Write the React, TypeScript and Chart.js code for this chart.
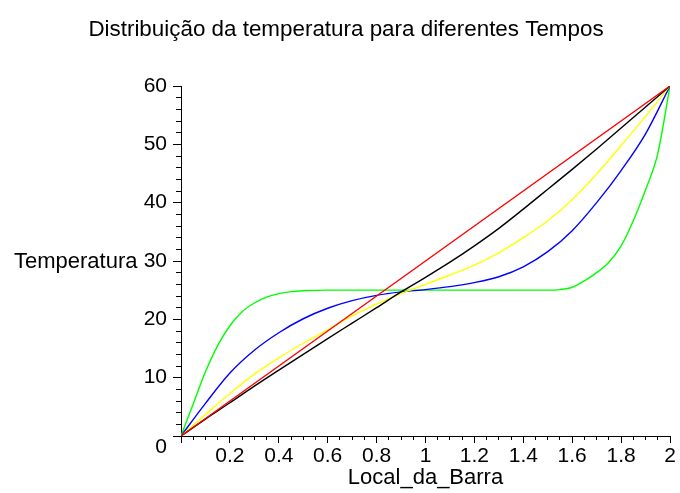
import { useEffect, useRef } from 'react';
import { Chart, registerables } from 'chart.js';

Chart.register(...registerables);

const TITLE = 'Distribuição da temperatura para diferentes Tempos';
const X_LABEL = 'Local_da_Barra';
const Y_LABEL = 'Temperatura';
const FONT = '"Liberation Sans", Arial, sans-serif';

// Positions along the bar, shared by the intermediate-time curves
const gridX = [0, 0.1, 0.2, 0.3, 0.4, 0.5, 0.6, 0.7, 0.8, 0.9, 1.0, 1.1, 1.2, 1.3, 1.4, 1.5, 1.6, 1.7, 1.8, 1.9, 2.0];

// Steady-state profile
const redX = [0, 1, 2];
const redY = [0, 30, 60];

const blackY = [0, 2.9, 5.7, 8.55, 11.3, 14.0, 16.7, 19.35, 22.0, 24.7, 27.2, 29.8, 32.6, 35.6, 38.9, 42.3, 45.7, 49.2, 52.8, 56.4, 60];
const yellowY = [0, 3.7, 7.3, 10.6, 13.4, 15.9, 18.2, 20.6, 22.6, 24.4, 26.0, 27.6, 29.3, 31.4, 34.0, 36.9, 40.5, 44.9, 49.8, 54.8, 60];
const blueY = [0, 5.6, 10.8, 14.7, 17.7, 20.1, 21.9, 23.2, 24.1, 24.7, 25.1, 25.6, 26.3, 27.3, 29.0, 31.6, 35.2, 40.0, 45.5, 51.8, 60];

// Earliest time: finer sampling near the ends where it bends sharply
const greenX = [0, 0.05, 0.1, 0.15, 0.2, 0.25, 0.3, 0.35, 0.4, 0.45, 0.5, 0.6, 1.5, 1.55, 1.6, 1.65, 1.7, 1.75, 1.8, 1.85, 1.9, 1.95, 2];
const greenY = [0, 5.5, 11.0, 15.5, 18.9, 21.3, 22.8, 23.8, 24.4, 24.75, 24.9, 25, 25, 25.1, 25.5, 26.6, 28.0, 29.8, 32.6, 36.9, 42.2, 48.4, 60];

const pts = (xs: number[], ys: number[]) => xs.map((x, i) => ({ x, y: ys[i] }));

const align = (p: number) => Math.round(p - 0.5) + 0.5;

// Title, minor ticks, the offset "0" label and the horizontal y-axis caption
const axisExtras = {
  id: 'axisExtras',
  afterDraw(chart: any) {
    const { ctx, chartArea, scales } = chart;
    const xs = scales.x;
    const ys = scales.y;
    ctx.save();
    ctx.strokeStyle = '#000';
    ctx.lineWidth = 1;
    ctx.beginPath();
    for (let v = 0; v <= 60; v += 2) {
      if (v % 10 === 0) continue;
      const py = align(ys.getPixelForValue(v));
      ctx.moveTo(chartArea.left - 5, py);
      ctx.lineTo(align(chartArea.left), py);
    }
    for (let i = 0; i <= 40; i++) {
      if (i % 4 === 0) continue;
      const px = align(xs.getPixelForValue(i * 0.05));
      ctx.moveTo(px, align(chartArea.bottom));
      ctx.lineTo(px, chartArea.bottom + 4);
    }
    ctx.stroke();

    ctx.fillStyle = '#000';
    ctx.font = `22.4px ${FONT}`;
    ctx.textAlign = 'center';
    ctx.textBaseline = 'alphabetic';
    ctx.fillText(TITLE, 346, 36);

    ctx.font = `21px ${FONT}`;
    ctx.textAlign = 'right';
    ctx.textBaseline = 'middle';
    ctx.fillText('0', chartArea.left - 14, ys.getPixelForValue(0) + 11);

    ctx.font = `22px ${FONT}`;
    ctx.textAlign = 'left';
    ctx.textBaseline = 'alphabetic';
    ctx.fillText(Y_LABEL, 14, ys.getPixelForValue(30) + 7);
    ctx.restore();
  },
};

export default function App() {
  const canvasRef = useRef<HTMLCanvasElement | null>(null);

  useEffect(() => {
    document.body.style.margin = '0';
    const canvas = canvasRef.current;
    if (!canvas) return;
    Chart.defaults.font.family = FONT;
    Chart.defaults.color = '#000';

    const line = (label: string, data: any[], color: string, order: number) => ({
      label,
      data,
      borderColor: color,
      backgroundColor: color,
      borderWidth: 1.4,
      pointRadius: 0,
      fill: false,
      cubicInterpolationMode: 'monotone' as const,
      order,
    });

    const chart = new Chart(canvas, {
      type: 'line',
      data: {
        datasets: [
          line('t5', pts(redX, redY), '#ff0000', 0),
          line('t4', pts(gridX, blackY), '#000000', 1),
          line('t3', pts(gridX, yellowY), '#ffff00', 2),
          line('t2', pts(gridX, blueY), '#0000ff', 3),
          line('t1', pts(greenX, greenY), '#00ff00', 4),
        ],
      },
      options: {
        responsive: false,
        animation: false,
        layout: { padding: { left: 0, right: 10, top: 86, bottom: 0 } },
        plugins: {
          legend: { display: false },
          tooltip: { enabled: false },
          title: { display: false },
        },
        scales: {
          x: {
            type: 'linear',
            min: 0,
            max: 2,
            ticks: {
              stepSize: 0.2,
              autoSkip: false,
              maxRotation: 0,
              padding: 1,
              color: '#000',
              font: { family: FONT, size: 21 },
              callback: (v: any) => (Number(v) === 0 ? '' : String(Math.round(Number(v) * 10) / 10)),
            },
            grid: { drawOnChartArea: false, tickLength: 7, tickColor: '#000' },
            border: { color: '#000', width: 1 },
            title: {
              display: true,
              text: X_LABEL,
              color: '#000',
              font: { family: FONT, size: 22 },
              padding: { top: 0, bottom: 2 },
            },
            afterFit: (s: any) => {
              s.height = 57;
            },
          },
          y: {
            type: 'linear',
            min: 0,
            max: 60,
            ticks: {
              stepSize: 10,
              padding: 6,
              color: '#000',
              font: { family: FONT, size: 21 },
              callback: (v: any) => (Number(v) === 0 ? '' : String(v)),
            },
            grid: { drawOnChartArea: false, tickLength: 8, tickColor: '#000' },
            border: { color: '#000', width: 1 },
            afterFit: (s: any) => {
              s.width = 181;
            },
          },
        },
      },
      plugins: [axisExtras],
    });

    return () => chart.destroy();
  }, []);

  return (
    <div style={{ width: 680, height: 493, background: '#fff' }}>
      <canvas ref={canvasRef} width={680} height={493} />
    </div>
  );
}
